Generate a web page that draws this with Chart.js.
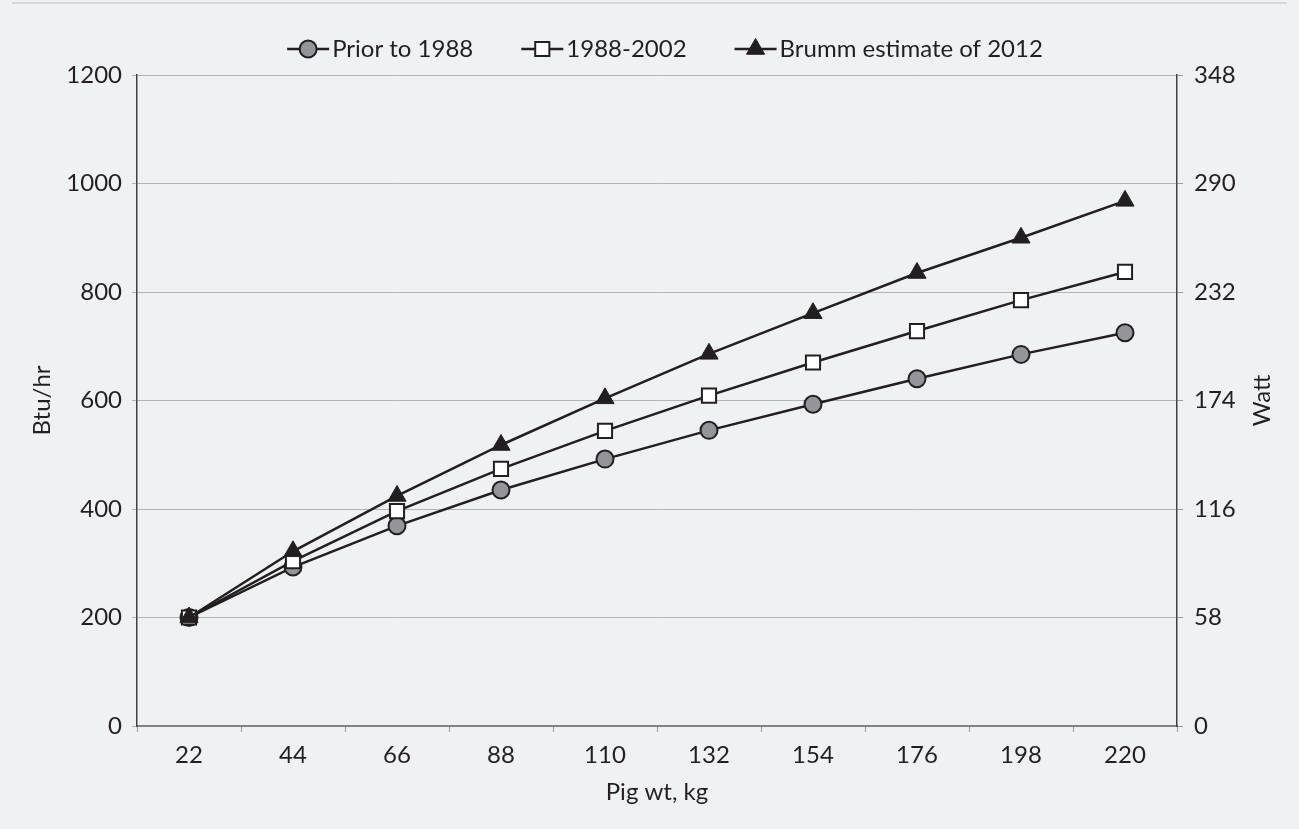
<!DOCTYPE html>
<html>
<head>
<meta charset="utf-8">
<script src="https://cdn.jsdelivr.net/npm/chart.js@4.4.1/dist/chart.umd.min.js"></script>
<style>
  html, body { margin: 0; padding: 0; background: #f0f1f3; }
  #wrap { position: relative; width: 1299px; height: 829px; }
  #topline { position: absolute; left: 12px; right: 12px; top: 2px; height: 2px; background: #d6d7da; }
  canvas { position: absolute; left: 0; top: 0; }
</style>
</head>
<body>
<div id="wrap">
  <div id="topline"></div>
  <canvas id="myChart" width="1299" height="829"></canvas>
</div>
<script>
const pigWeights = ['22', '44', '66', '88', '110', '132', '154', '176', '198', '220']
const prior1988 = [200, 293, 369, 435, 492, 545, 593, 640, 685, 725]
const from1988to2002 = [200, 304, 396, 474, 544, 609, 670, 728, 785, 837]
const brumm2012 = [200, 322, 424, 518, 604, 686, 761, 835, 900, 968]
const seriesNames = ['Prior to 1988', '1988-2002', 'Brumm estimate of 2012']
const btuMax = 1200
const btuStep = 200
const wattMax = 348
const wattStep = 58

const ink = '#231f20'
const fontFamily = "Lato, 'Open Sans', sans-serif"
const fontSize = 24

Chart.defaults.font.family = fontFamily
Chart.defaults.font.size = fontSize
Chart.defaults.color = ink

// legend drawn by hand: a short line with the marker in the middle
const lineLegend = {
  id: 'lineLegend',
  afterDraw(chart) {
    const ctx = chart.ctx
    const datasets = chart.data.datasets
    const segW = 42, textGap = 3, itemGap = 48
    ctx.save()
    ctx.font = fontSize + 'px ' + fontFamily
    let widths = datasets.map(d => segW + textGap + ctx.measureText(d.label).width)
    let total = widths.reduce((a, b) => a + b, 0) + itemGap * (datasets.length - 1)
    let x = 665 - total / 2
    const y = 49
    datasets.forEach((d, i) => {
      ctx.strokeStyle = ink
      ctx.lineWidth = 2.5
      ctx.beginPath()
      ctx.moveTo(x, y)
      ctx.lineTo(x + segW, y)
      ctx.stroke()
      ctx.fillStyle = d.pointBackgroundColor
      ctx.strokeStyle = d.pointBorderColor
      ctx.lineWidth = d.pointBorderWidth
      Chart.helpers.drawPoint(ctx, {
        pointStyle: d.pointStyle,
        radius: d.pointRadius,
        rotation: 0,
        borderWidth: d.pointBorderWidth
      }, x + segW / 2, y)
      ctx.fillStyle = ink
      ctx.textBaseline = 'middle'
      ctx.textAlign = 'left'
      ctx.fillText(d.label, x + segW + textGap, y)
      x += widths[i] + itemGap
    })

    // right axis title reads bottom to top
    const area = chart.chartArea
    ctx.translate(1262, (area.top + area.bottom) / 2)
    ctx.rotate(-Math.PI / 2)
    ctx.textAlign = 'center'
    ctx.fillText('Watt', 0, 0)
    ctx.restore()
  }
}

const plainNumber = value => String(value)

const ctx = document.getElementById('myChart').getContext('2d')
const myChart = new Chart(ctx, {
  type: 'line',
  data: {
    labels: pigWeights,
    datasets: [
      {
        label: seriesNames[0],
        data: prior1988,
        yAxisID: 'y',
        borderColor: ink,
        borderWidth: 2.5,
        pointStyle: 'circle',
        pointRadius: 8.5,
        pointBackgroundColor: '#939598',
        pointBorderColor: ink,
        pointBorderWidth: 2,
        order: 3
      },
      {
        label: seriesNames[1],
        data: from1988to2002,
        yAxisID: 'y',
        borderColor: ink,
        borderWidth: 2.5,
        pointStyle: 'rect',
        pointRadius: 10,
        pointBackgroundColor: '#ffffff',
        pointBorderColor: ink,
        pointBorderWidth: 2,
        order: 2
      },
      {
        label: seriesNames[2],
        data: brumm2012,
        yAxisID: 'y',
        borderColor: ink,
        borderWidth: 2.5,
        pointStyle: 'triangle',
        pointRadius: 10.5,
        pointBackgroundColor: ink,
        pointBorderColor: ink,
        pointBorderWidth: 1,
        order: 1
      }
    ]
  },
  options: {
    responsive: false,
    devicePixelRatio: 1,
    animation: false,
    layout: { padding: { top: 75, left: 0, right: 0, bottom: 0 } },
    plugins: {
      legend: { display: false },
      tooltip: { enabled: false }
    },
    scales: {
      x: {
        type: 'category',
        offset: true,
        grid: {
          offset: true,
          drawOnChartArea: false,
          drawTicks: true,
          tickLength: 6,
          color: '#9a9b9e'
        },
        border: { color: '#808285', width: 2 },
        ticks: { padding: 9, color: ink },
        title: { display: true, text: 'Pig wt, kg', color: ink, padding: { top: 0, bottom: 22 } },
        afterFit(scale) { scale.height = 103 }
      },
      y: {
        position: 'left',
        min: 0,
        max: btuMax,
        ticks: { stepSize: btuStep, padding: 10, color: ink, callback: plainNumber },
        grid: { color: '#b3b4b6', tickLength: 5 },
        border: { color: '#414042', width: 1.5 },
        title: { display: true, text: 'Btu/hr', color: ink, padding: { top: 28, bottom: 0 } },
        afterFit(scale) { scale.width = 137 }
      },
      y2: {
        position: 'right',
        min: 0,
        max: wattMax,
        ticks: { stepSize: wattStep, padding: 11, color: ink, callback: plainNumber },
        grid: { drawOnChartArea: false, tickLength: 6, color: '#9a9b9e' },
        border: { color: '#414042', width: 1.5 },
        afterFit(scale) { scale.width = 122 }
      }
    }
  },
  plugins: [lineLegend]
})
</script>
</body>
</html>
